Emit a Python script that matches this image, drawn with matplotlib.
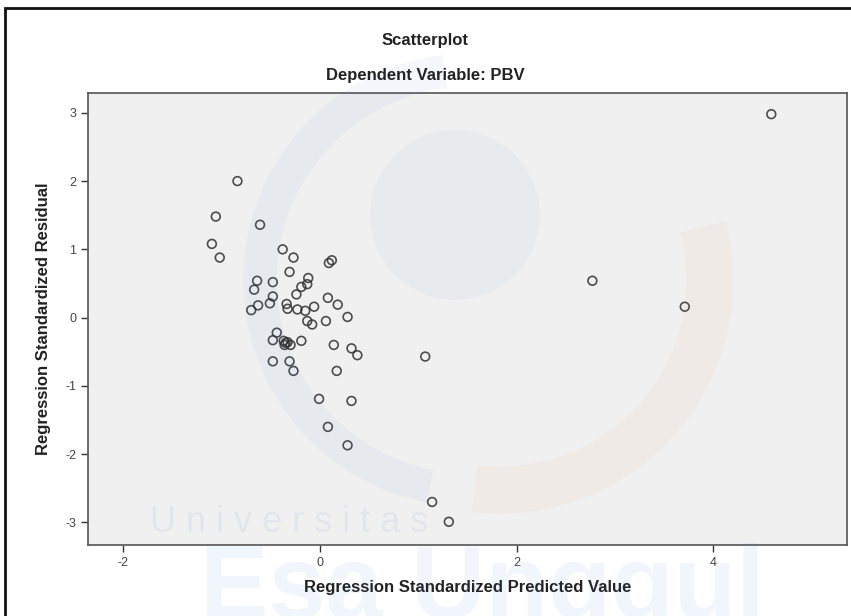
import matplotlib.pyplot as plt
from matplotlib.patches import Rectangle, Ellipse, Arc

# standardized predicted values (x) and standardized residuals (y)
pred = [4.59, -0.84, -1.06, -0.61, -1.10, -1.02, -0.38, -0.27, 0.09, 0.12,
        -0.31, -0.64, -0.48, -0.12, -0.67, -0.19, -0.13, -0.24, -0.48, 0.08,
        0.18, -0.51, -0.63, -0.70, -0.34, -0.33, -0.23, -0.15, -0.06, 0.28,
        -0.13, -0.08, 0.06, -0.44, -0.48, -0.37, -0.35, -0.33, -0.36, -0.30,
        -0.19, 0.14, 0.32, 0.38, -0.48, -0.31, -0.27, 0.17, -0.01, 0.32,
        0.08, 0.28, 1.07, 2.77, 3.71, 1.14, 1.31]
resid = [2.98, 2.00, 1.48, 1.36, 1.08, 0.88, 1.00, 0.88, 0.80, 0.84,
         0.67, 0.54, 0.52, 0.58, 0.41, 0.45, 0.49, 0.34, 0.31, 0.29,
         0.19, 0.21, 0.18, 0.11, 0.20, 0.13, 0.12, 0.10, 0.16, 0.01,
         -0.05, -0.10, -0.05, -0.22, -0.33, -0.34, -0.37, -0.36, -0.40, -0.40,
         -0.34, -0.40, -0.45, -0.55, -0.64, -0.64, -0.78, -0.78, -1.19, -1.22,
         -1.60, -1.87, -0.57, 0.54, 0.16, -2.70, -2.99]

xticks = [-2, 0, 2, 4]
yticks = [-3, -2, -1, 0, 1, 2, 3]

plt.rcParams['font.family'] = ['Liberation Sans', 'DejaVu Sans']
plt.rcParams['axes.unicode_minus'] = False

W, H = 851, 616


def fx(px):
    return px / W


def fy(py):
    return 1 - py / H


fig = plt.figure(figsize=(W / 100, H / 100), dpi=100)
ax = fig.add_axes([fx(88), fy(545), (847 - 88) / W, (545 - 93) / H])
ax.set_facecolor('#f0f0f0')

ax.scatter(pred, resid, s=40, facecolors='none', edgecolors='#303030',
           linewidths=1.2, alpha=0.85, zorder=3)

ax.set_xlim(-2.36, 5.36)
ax.set_ylim(-3.33, 3.29)
ax.set_xticks(xticks)
ax.set_yticks(yticks)
ax.tick_params(colors='#333333', labelcolor='#444444', labelsize=9, length=5, width=1)
for s in ax.spines.values():
    s.set_color('#555555')
    s.set_linewidth(1.2)

ax.set_xlabel('Regression Standardized Predicted Value', fontsize=12,
              fontweight='bold', color='#222222', labelpad=8)
ax.set_ylabel('Regression Standardized Residual', fontsize=12,
              fontweight='bold', color='#222222', labelpad=10)

fig.text(0.5, 0.935, 'Scatterplot', ha='center', va='center', fontsize=12,
         fontweight='bold', color='#222222')
fig.text(0.5, 0.878, 'Dependent Variable: PBV', ha='center', va='center',
         fontsize=12, fontweight='bold', color='#222222')

# faint logo watermark
fig.patches.append(Arc((fx(470), fy(280)), 2 * 210 / W, 2 * 210 / H, theta1=95, theta2=262,
                       transform=fig.transFigure, color='#3a7bd5', alpha=0.05, linewidth=24))
fig.patches.append(Arc((fx(500), fy(280)), 2 * 210 / W, 2 * 210 / H, theta1=-95, theta2=20,
                       transform=fig.transFigure, color='#f08040', alpha=0.05, linewidth=34))
fig.patches.append(Ellipse((fx(455), fy(215)), 2 * 85 / W, 2 * 85 / H,
                           transform=fig.transFigure,
                           facecolor='#3a7bd5', edgecolor='none', alpha=0.04))

fig.text(fx(150), fy(522), 'U n i v e r s i t a s', ha='left', va='center',
         fontsize=26, color='#3a7bd5', alpha=0.08)
fig.text(fx(200), fy(592), 'Esa Unggul', ha='left', va='center',
         fontsize=74, fontweight='bold', color='#3a7bd5', alpha=0.07)

# outer frame
fig.patches.append(Rectangle((fx(5), -0.1), 1.2, fy(8) + 0.1,
                             transform=fig.transFigure, fill=False,
                             edgecolor='#111111', linewidth=2))

fig.savefig('out.png', dpi=100)
